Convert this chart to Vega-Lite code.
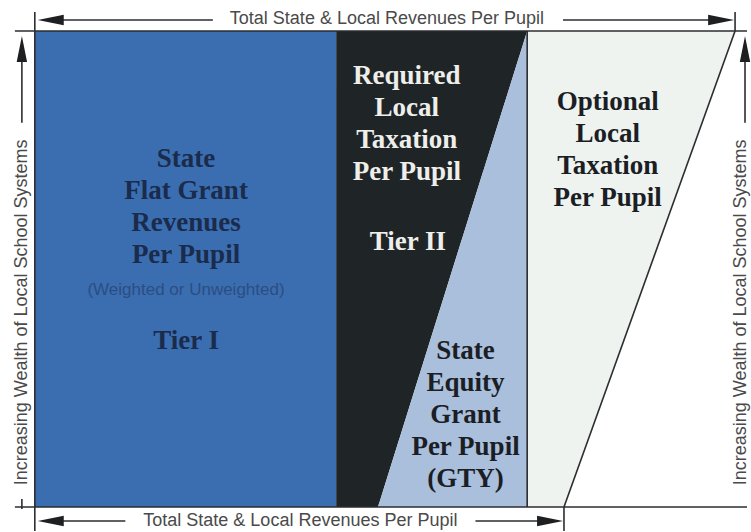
{
  "$schema": "https://vega.github.io/schema/vega-lite/v6.json",
  "width": 751,
  "height": 532,
  "autosize": {"type": "fit", "contains": "padding"},
  "padding": 0,
  "background": "#ffffff",
  "config": {"view": {"stroke": null}, "axis": {"disable": true}},
  "datasets": {
    "regions": [
      {"region": "State Flat Grant", "y": 31, "xl": 35, "xr": 338},
      {"region": "State Flat Grant", "y": 508, "xl": 35, "xr": 338},
      {"region": "Required Local Taxation", "y": 31, "xl": 338, "xr": 530},
      {"region": "Required Local Taxation", "y": 508, "xl": 338, "xr": 380},
      {"region": "State Equity Grant", "y": 31, "xl": 530, "xr": 530},
      {"region": "State Equity Grant", "y": 508, "xl": 380, "xr": 530},
      {"region": "Optional Local Taxation", "y": 31, "xl": 530, "xr": 739},
      {"region": "Optional Local Taxation", "y": 508, "xl": 530, "xr": 567}
    ],
    "lines": [
      {"name": "top border", "x": 15, "y": 31, "x2": 751, "y2": 31},
      {"name": "bottom border", "x": 15, "y": 508, "x2": 751, "y2": 508},
      {"name": "left edge", "x": 35, "y": 12, "x2": 35, "y2": 532},
      {"name": "tier divider", "x": 530, "y": 31, "x2": 530, "y2": 508},
      {"name": "optional edge", "x": 567, "y": 508, "x2": 739, "y2": 31},
      {"name": "top tick right", "x": 739, "y": 12, "x2": 739, "y2": 31},
      {"name": "bottom tick right", "x": 567, "y": 508, "x2": 567, "y2": 532},
      {"name": "top arrow left", "x": 50, "y": 20, "x2": 214, "y2": 20},
      {"name": "top arrow right", "x": 566, "y": 20, "x2": 726, "y2": 20},
      {"name": "bottom arrow left", "x": 50, "y": 522, "x2": 126, "y2": 522},
      {"name": "bottom arrow right", "x": 478, "y": 522, "x2": 554, "y2": 522},
      {"name": "left wealth arrow", "x": 22, "y": 50, "x2": 22, "y2": 123},
      {"name": "left wealth tail", "x": 22, "y": 500, "x2": 22, "y2": 510},
      {"name": "right wealth arrow", "x": 749, "y": 50, "x2": 749, "y2": 123}
    ],
    "arrows": [
      {"dir": "left", "x": 51, "y": 20},
      {"dir": "right", "x": 725, "y": 20},
      {"dir": "left", "x": 51, "y": 522},
      {"dir": "right", "x": 553, "y": 522},
      {"dir": "up", "x": 22, "y": 49},
      {"dir": "up", "x": 749, "y": 49}
    ],
    "labels": [
      {"region": "flat", "x": 187, "y": 167, "text": "State\nFlat Grant\nRevenues\nPer Pupil"},
      {"region": "flat", "x": 187, "y": 350, "text": "Tier I"},
      {"region": "required", "x": 409, "y": 84, "text": "Required\nLocal\nTaxation\nPer Pupil"},
      {"region": "required", "x": 410, "y": 250, "text": "Tier II"},
      {"region": "equity", "x": 468, "y": 360, "text": "State\nEquity\nGrant\nPer Pupil\n(GTY)"},
      {"region": "optional", "x": 611, "y": 110, "text": "Optional\nLocal\nTaxation\nPer Pupil"}
    ],
    "notes": [
      {"kind": "weighted", "x": 187, "y": 291, "angle": 0, "text": "(Weighted or Unweighted)"},
      {"kind": "axis", "x": 389, "y": 19, "angle": 0, "text": "Total State & Local Revenues Per Pupil"},
      {"kind": "axis", "x": 302, "y": 522, "angle": 0, "text": "Total State & Local Revenues Per Pupil"},
      {"kind": "axis", "x": 22, "y": 313, "angle": 270, "text": "Increasing Wealth of Local School Systems"},
      {"kind": "axis", "x": 745, "y": 313, "angle": 270, "text": "Increasing Wealth of Local School Systems"}
    ]
  },
  "layer": [
    {
      "data": {"name": "regions"},
      "mark": {"type": "area", "orient": "horizontal", "interpolate": "linear"},
      "encoding": {
        "y": {"field": "y", "type": "quantitative", "scale": {"domain": [0, 532], "reverse": true, "nice": false, "zero": false}},
        "x": {"field": "xl", "type": "quantitative", "scale": {"domain": [0, 751], "nice": false, "zero": false}},
        "x2": {"field": "xr"},
        "color": {
          "field": "region",
          "type": "nominal",
          "scale": {
            "domain": ["State Flat Grant", "Required Local Taxation", "State Equity Grant", "Optional Local Taxation"],
            "range": ["#3b6eb0", "#1f2427", "#a9bfdc", "#eef3ef"]
          },
          "legend": null
        }
      }
    },
    {
      "data": {"name": "lines"},
      "mark": {"type": "rule", "color": "#2b2d30", "strokeWidth": 1.6},
      "encoding": {
        "x": {"field": "x", "type": "quantitative", "scale": {"domain": [0, 751], "nice": false, "zero": false}},
        "y": {"field": "y", "type": "quantitative", "scale": {"domain": [0, 532], "reverse": true, "nice": false, "zero": false}},
        "x2": {"field": "x2"},
        "y2": {"field": "y2"}
      }
    },
    {
      "data": {"name": "arrows"},
      "mark": {"type": "point", "filled": true, "color": "#1e1f21", "opacity": 1, "size": 676},
      "encoding": {
        "x": {"field": "x", "type": "quantitative", "scale": {"domain": [0, 751], "nice": false, "zero": false}},
        "y": {"field": "y", "type": "quantitative", "scale": {"domain": [0, 532], "reverse": true, "nice": false, "zero": false}},
        "shape": {
          "field": "dir",
          "type": "nominal",
          "scale": {
            "domain": ["left", "right", "up"],
            "range": ["M -1 0 L 1 -0.4 L 1 0.4 Z", "M 1 0 L -1 -0.4 L -1 0.4 Z", "M 0 -1 L -0.4 1 L 0.4 1 Z"]
          },
          "legend": null
        }
      }
    },
    {
      "data": {"name": "labels"},
      "transform": [{"filter": "datum.region === 'flat'"}],
      "mark": {"type": "text", "font": "Liberation Serif", "fontWeight": "bold", "fontSize": 27, "lineHeight": 32, "lineBreak": "\n", "align": "center", "baseline": "alphabetic", "color": "#1a2b4c"},
      "encoding": {
        "x": {"field": "x", "type": "quantitative", "scale": {"domain": [0, 751], "nice": false, "zero": false}},
        "y": {"field": "y", "type": "quantitative", "scale": {"domain": [0, 532], "reverse": true, "nice": false, "zero": false}},
        "text": {"field": "text"}
      }
    },
    {
      "data": {"name": "labels"},
      "transform": [{"filter": "datum.region === 'required'"}],
      "mark": {"type": "text", "font": "Liberation Serif", "fontWeight": "bold", "fontSize": 27, "lineHeight": 32, "lineBreak": "\n", "align": "center", "baseline": "alphabetic", "color": "#eeeeea"},
      "encoding": {
        "x": {"field": "x", "type": "quantitative", "scale": {"domain": [0, 751], "nice": false, "zero": false}},
        "y": {"field": "y", "type": "quantitative", "scale": {"domain": [0, 532], "reverse": true, "nice": false, "zero": false}},
        "text": {"field": "text"}
      }
    },
    {
      "data": {"name": "labels"},
      "transform": [{"filter": "datum.region === 'equity' || datum.region === 'optional'"}],
      "mark": {"type": "text", "font": "Liberation Serif", "fontWeight": "bold", "fontSize": 27, "lineHeight": 32, "lineBreak": "\n", "align": "center", "baseline": "alphabetic", "color": "#1b1e24"},
      "encoding": {
        "x": {"field": "x", "type": "quantitative", "scale": {"domain": [0, 751], "nice": false, "zero": false}},
        "y": {"field": "y", "type": "quantitative", "scale": {"domain": [0, 532], "reverse": true, "nice": false, "zero": false}},
        "text": {"field": "text"}
      }
    },
    {
      "data": {"name": "notes"},
      "transform": [{"filter": "datum.kind === 'weighted'"}],
      "mark": {"type": "text", "font": "Liberation Sans", "fontSize": 17, "align": "center", "baseline": "middle", "color": "#2c4d83"},
      "encoding": {
        "x": {"field": "x", "type": "quantitative", "scale": {"domain": [0, 751], "nice": false, "zero": false}},
        "y": {"field": "y", "type": "quantitative", "scale": {"domain": [0, 532], "reverse": true, "nice": false, "zero": false}},
        "text": {"field": "text"}
      }
    },
    {
      "data": {"name": "notes"},
      "transform": [{"filter": "datum.kind === 'axis'"}],
      "mark": {"type": "text", "font": "Liberation Sans", "fontSize": 18, "align": "center", "baseline": "middle", "color": "#4a4a4a"},
      "encoding": {
        "x": {"field": "x", "type": "quantitative", "scale": {"domain": [0, 751], "nice": false, "zero": false}},
        "y": {"field": "y", "type": "quantitative", "scale": {"domain": [0, 532], "reverse": true, "nice": false, "zero": false}},
        "angle": {"field": "angle", "type": "quantitative", "scale": null},
        "text": {"field": "text"}
      }
    }
  ]
}
